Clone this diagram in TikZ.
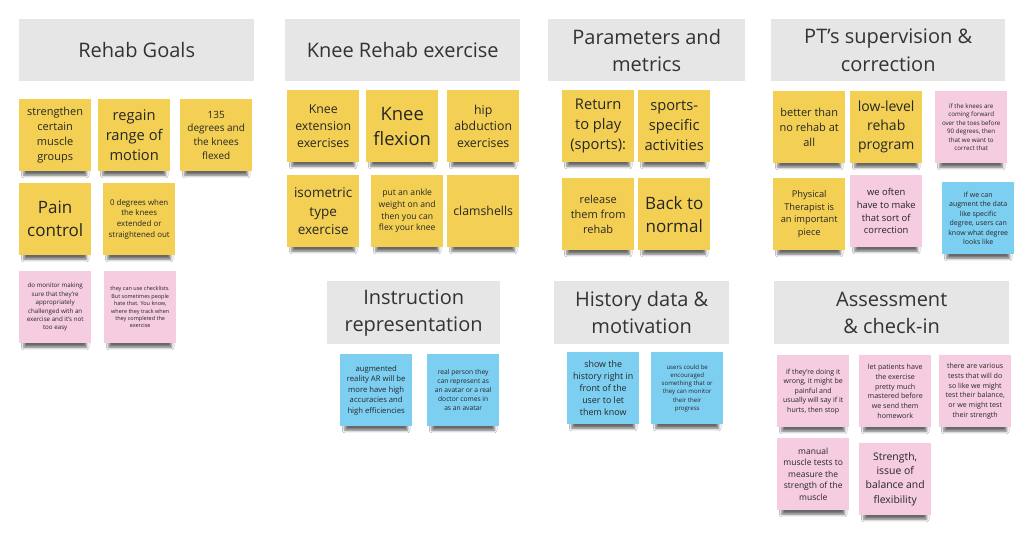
\documentclass[tikz,border=0pt]{standalone}
\usepackage{fontspec}
\setmainfont{Open Sans}
\usepackage{tikz}
\usetikzlibrary{positioning,shadows,shadows.blur}
\definecolor{stickyY}{HTML}{F3D054}
\definecolor{stickyP}{HTML}{F5CCE0}
\definecolor{stickyB}{HTML}{7DCFF2}
\definecolor{hdrgray}{HTML}{E6E6E6}
\definecolor{hdrtxt}{HTML}{333333}
\definecolor{notetxt}{HTML}{262626}
\newcommand{\nfs}[1]{\fontsize{#1pt}{\dimexpr#1pt*136/100\relax}\selectfont}

\begin{document}
\begin{tikzpicture}[x=1pt,y=-1pt,
    hdr/.style={fill=hdrgray,anchor=north west,align=center,text=hdrtxt,
      inner sep=0pt,minimum height=62pt,font=\nfs{20}},
    note/.style={minimum width=72pt,minimum height=72pt,inner sep=0pt,
      align=center,anchor=north west,text=notetxt,
      blur shadow={shadow xshift=0pt,shadow yshift=-10pt,shadow scale=.87,
        shadow blur radius=3pt,shadow opacity=60}},
    ynote/.style={note,fill=stickyY},
    pnote/.style={note,fill=stickyP},
    bnote/.style={note,fill=stickyB}]
    \useasboundingbox[fill=white] (0,0) rectangle (1024,555);

    % headers
    \node[hdr,minimum width=235pt] (goals) at (19,19) {Rehab Goals};
    \node[hdr,minimum width=235pt] (knee) at (285,19) {Knee Rehab exercise};
    \node[hdr,minimum width=197pt] (param) at (548,19) {Parameters and\\metrics};
    \node[hdr,minimum width=234pt] (super) at (771,19) {PT's supervision \&\\correction};
    \node[hdr,minimum width=173pt,minimum height=63pt] (instr) at (327,281) {Instruction\\representation};
    \node[hdr,minimum width=175pt,minimum height=63pt] (hist) at (554,281) {History data \&\\motivation};
    \node[hdr,minimum width=235pt,minimum height=63pt] (assess) at (774,281) {Assessment\\\& check-in};

    % Rehab Goals
    \node[ynote,font=\nfs{11}] (g1) at (19,99) {strengthen\\certain\\muscle\\groups};
    \node[ynote,font=\nfs{14.7}] (g2) at (98,99) {regain\\range of\\motion};
    \node[ynote,font=\nfs{10}] (g3) at (180,99) {135\\degrees and\\the knees\\flexed};
    \node[ynote,font=\nfs{17}] (g4) at (19,183) {Pain\\control};
    \node[ynote,font=\nfs{7.9}] (g5) at (103,183) {0 degrees when\\the knees\\extended or\\straightened out};
    \node[pnote,font=\nfs{6.2}] (g6) at (19,271) {do monitor making\\sure that they're\\appropriately\\challenged with an\\exercise and it's not\\too easy};
    \node[pnote,font=\nfs{5.5}] (g7) at (104,271) {they can use checklists.\\But sometimes people\\hate that. You know,\\where they track when\\they completed the\\exercise};

    % Knee Rehab exercise
    \node[ynote,font=\nfs{12.3}] (k1) at (287,90) {Knee\\extension\\exercises};
    \node[ynote,font=\nfs{18.4}] (k2) at (366,90) {Knee\\flexion};
    \node[ynote,font=\nfs{12.3}] (k3) at (447,90) {hip\\abduction\\exercises};
    \node[ynote,font=\nfs{13.5}] (k4) at (287,175) {isometric\\type\\exercise};
    \node[ynote,font=\nfs{8.6}] (k5) at (371,175) {put an ankle\\weight on and\\then you can\\flex your knee};
    \node[ynote,font=\nfs{12.3}] (k6) at (447,175) {clamshells};

    % Parameters and metrics
    \node[ynote,font=\nfs{14.7}] (p1) at (562,90) {Return\\to play\\(sports):};
    \node[ynote,font=\nfs{14.7}] (p2) at (638,90) {sports-\\specific\\activities};
    \node[ynote,font=\nfs{11}] (p3) at (562,178) {release\\them from\\rehab};
    \node[ynote,font=\nfs{17}] (p4) at (638,178) {Back to\\normal};

    % PT's supervision
    \node[ynote,font=\nfs{11}] (s1) at (773,91) {better than\\no rehab at\\all};
    \node[ynote,font=\nfs{14}] (s2) at (850,91) {low-level\\rehab\\program};
    \node[pnote,font=\nfs{6.2}] (s3) at (935,91) {if the knees are\\coming forward\\over the toes before\\90 degrees, then\\that we want to\\correct that};
    \node[ynote,font=\nfs{9.3}] (s4) at (773,178) {Physical\\Therapist is\\an important\\piece};
    \node[pnote,font=\nfs{9.4}] (s5) at (850,175) {we often\\have to make\\that sort of\\correction};
    \node[bnote,font=\nfs{7}] (s6) at (942,182) {if we can\\augment the data\\like specific\\degree, users can\\know what degree\\looks like};

    % Instruction representation
    \node[bnote,font=\nfs{7.7}] (i1) at (340,354) {augmented\\reality AR will be\\more have high\\accuracies and\\high efficiencies};
    \node[bnote,font=\nfs{6.7}] (i2) at (427,354) {real person they\\can represent as\\an avatar or a real\\doctor comes in\\as an avatar};

    % History data
    \node[bnote,font=\nfs{8.9}] (h1) at (567,352) {show the\\history right in\\front of the\\user to let\\them know};
    \node[bnote,font=\nfs{6.1}] (h2) at (651,352) {users could be\\encouraged\\something that or\\they can monitor\\their their\\progress};

    % Assessment
    \node[pnote,font=\nfs{7}] (a1) at (777,355) {if they're doing it\\wrong, it might be\\painful and\\usually will say if it\\hurts, then stop};
    \node[pnote,font=\nfs{7.1}] (a2) at (859,355) {let patients have\\the exercise\\pretty much\\mastered before\\we send them\\homework};
    \node[pnote,font=\nfs{7.1}] (a3) at (939,355) {there are various\\tests that will do\\so like we might\\test their balance,\\or we might test\\their strength};
    \node[pnote,font=\nfs{8.5}] (a4) at (777,438) {manual\\muscle tests to\\measure the\\strength of the\\muscle};
    \node[pnote,font=\nfs{10.4}] (a5) at (859,443) {Strength,\\issue of\\balance and\\flexibility};
\end{tikzpicture}
\end{document}
